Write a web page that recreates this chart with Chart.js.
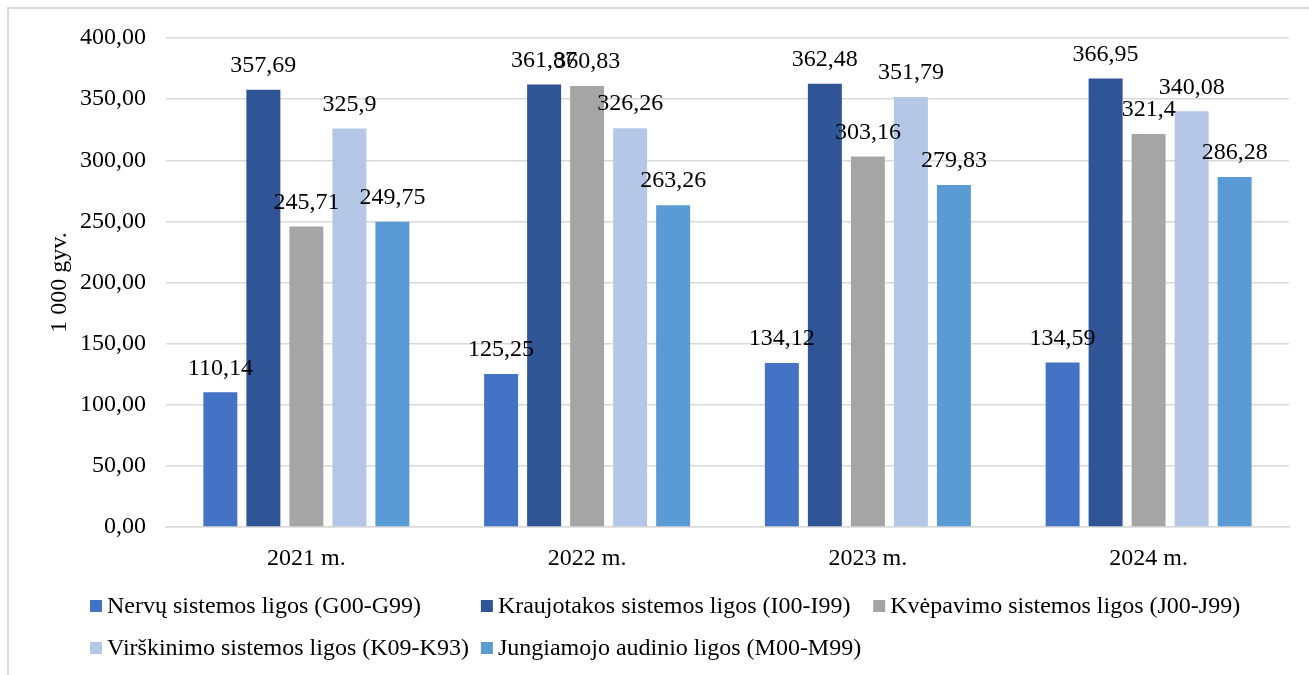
<!DOCTYPE html>
<html>
<head>
<meta charset="utf-8">
<script src="https://cdn.jsdelivr.net/npm/chart.js@4/dist/chart.umd.min.js"></script>
<style>
  html, body { margin: 0; padding: 0; background: #fff; }
  #wrap { width: 1309px; height: 675px; }
</style>
</head>
<body>
<div id="wrap"><canvas id="chart" width="1309" height="675"></canvas></div>
<script>
// Sergamumas 1 000 gyv. pagal ligų grupes, 2021–2024 m.
const categories = ["2021 m.", "2022 m.", "2023 m.", "2024 m."];
const seriesNames = [
  "Nervų sistemos ligos (G00-G99)",
  "Kraujotakos sistemos ligos (I00-I99)",
  "Kvėpavimo sistemos ligos (J00-J99)",
  "Virškinimo sistemos ligos (K09-K93)",
  "Jungiamojo audinio ligos (M00-M99)",
];
const nervu = [110.14, 125.25, 134.12, 134.59];
const kraujotakos = [357.69, 361.87, 362.48, 366.95];
const kvepavimo = [245.71, 360.83, 303.16, 321.4];
const virskinimo = [325.9, 326.26, 351.79, 340.08];
const jungiamojo = [249.75, 263.26, 279.83, 286.28];
const seriesColors = ["#4472c4", "#2f5597", "#a5a5a5", "#b4c7e7", "#5b9bd5"];
const yTitle = "1 000 gyv.";
const yMin = 0, yMax = 400, yStep = 50;

const FONT = "'Liberation Serif', 'Times New Roman', serif";
const SIZE = 24;
const comma = (v) => String(v).replace(".", ",");

const seriesValues = [nervu, kraujotakos, kvepavimo, virskinimo, jungiamojo];

// white background + light gray chart outline
const frame = {
  id: "frame",
  beforeDraw(chart) {
    const ctx = chart.ctx;
    ctx.save();
    ctx.fillStyle = "#fff";
    ctx.fillRect(0, 0, chart.width, chart.height);
    ctx.strokeStyle = "#d9d9d9";
    ctx.lineWidth = 2;
    ctx.strokeRect(8, 8, chart.width + 50, chart.height + 50);
    ctx.restore();
  },
};

// value labels above bars
const valueLabels = {
  id: "valueLabels",
  afterDatasetsDraw(chart) {
    const ctx = chart.ctx;
    ctx.save();
    ctx.font = SIZE + "px " + FONT;
    ctx.fillStyle = "#000";
    ctx.textAlign = "center";
    ctx.textBaseline = "middle";
    chart.data.datasets.forEach((ds, i) => {
      chart.getDatasetMeta(i).data.forEach((bar, j) => {
        ctx.fillText(comma(ds.data[j]), bar.x, bar.y - 24);
      });
    });
    ctx.restore();
  },
};

// Excel-style legend: 3 columns, left aligned
const gridLegend = {
  id: "gridLegend",
  afterDraw(chart) {
    const ctx = chart.ctx;
    const ds = chart.data.datasets;
    const cols = 3, box = 12, gap = 5, colGap = 12;
    ctx.save();
    ctx.font = SIZE + "px " + FONT;
    const widths = [];
    ds.forEach((d, i) => {
      const c = i % cols;
      const w = box + gap + ctx.measureText(d.label).width;
      widths[c] = Math.max(widths[c] || 0, w);
    });
    const xs = [90];
    for (let c = 1; c < cols; c++) xs[c] = xs[c - 1] + widths[c - 1] + colGap;
    ctx.textBaseline = "middle";
    ctx.textAlign = "left";
    ds.forEach((d, i) => {
      const x = xs[i % cols];
      const y = 606 + Math.floor(i / cols) * 42;
      ctx.fillStyle = d.backgroundColor;
      ctx.fillRect(x, y - box / 2, box, box);
      ctx.fillStyle = "#000";
      ctx.fillText(d.label, x + box + gap, y + 1);
    });
    ctx.restore();
  },
};

new Chart(document.getElementById("chart"), {
  type: "bar",
  data: {
    labels: categories,
    datasets: seriesNames.map((name, i) => ({
      label: name,
      data: seriesValues[i],
      backgroundColor: seriesColors[i],
      barPercentage: 0.79,
      categoryPercentage: 0.766,
    })),
  },
  options: {
    responsive: false,
    devicePixelRatio: 1,
    animation: false,
    layout: { padding: { left: 8, right: 20, top: 38, bottom: 88 } },
    plugins: { legend: { display: false }, tooltip: { enabled: false } },
    scales: {
      x: {
        grid: { display: false },
        border: { display: true, color: "#d9d9d9", width: 1.5 },
        ticks: { color: "#000", font: { family: FONT, size: SIZE }, padding: 9 },
        afterFit(scale) { scale.height = 60; },
      },
      y: {
        min: yMin,
        max: yMax,
        grid: { color: "#d9d9d9", lineWidth: 1.5, drawTicks: false },
        border: { display: false },
        ticks: {
          stepSize: yStep,
          color: "#000",
          font: { family: FONT, size: SIZE },
          padding: 20,
          callback: (v) => v.toFixed(2).replace(".", ","),
        },
        title: {
          display: true,
          text: yTitle,
          color: "#000",
          font: { family: FONT, size: SIZE },
          padding: { top: 37, bottom: 0 },
        },
        afterFit(scale) { scale.width = 158; },
      },
    },
  },
  plugins: [frame, valueLabels, gridLegend],
});
</script>
</body>
</html>
